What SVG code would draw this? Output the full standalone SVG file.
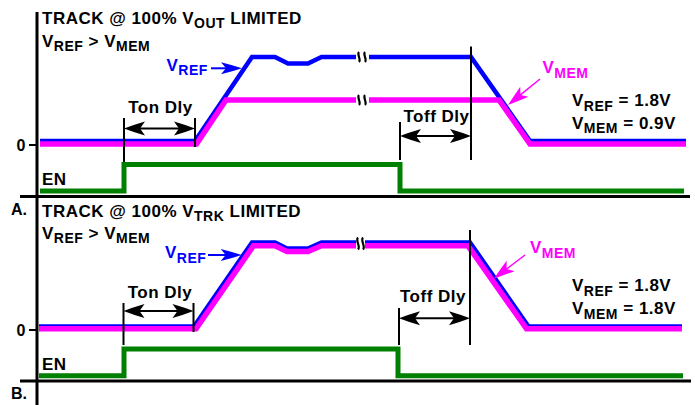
<svg xmlns="http://www.w3.org/2000/svg" width="695" height="405" viewBox="0 0 695 405">
<style>
text{font-family:"Liberation Sans",Arial,Helvetica,sans-serif;font-weight:bold;font-size:17px;letter-spacing:0.5px;fill:#000}
.s{font-size:14px}
.sm{font-size:16px;letter-spacing:0}
.tb{fill:#0000ff}
.tm{fill:#ff00ff}
.axis{stroke:#000;stroke-width:3;fill:none}
.tick{stroke:#000;stroke-width:2;fill:none}
.mk{stroke:#000;stroke-width:2;fill:none}
.dim{stroke:#000;stroke-width:2;fill:none;marker-start:url(#ak);marker-end:url(#ak)}
.vref{stroke:#0000ff;stroke-width:4.5;fill:none;stroke-linejoin:miter}
.vmem{stroke:#ff00ff;stroke-width:5.5;fill:none;stroke-linejoin:miter}
.en{stroke:#008000;stroke-width:5;fill:none;stroke-linejoin:miter}
.brk{stroke:#000;stroke-width:2.2;fill:none}
.ab{stroke:#0000ff;stroke-width:2;fill:none;marker-end:url(#ab)}
.am{stroke:#ff00ff;stroke-width:1.5;fill:none;marker-end:url(#am)}
</style>
<defs>
<marker id="ak" viewBox="-32 -8 34 16" refX="-10" refY="0" markerWidth="34" markerHeight="16" markerUnits="userSpaceOnUse" orient="auto-start-reverse">
<path d="M0,0 Q-9,-3.5 -21,-7 L-16,0 L-21,7 Q-9,3.5 0,0 Z" fill="#000"/>
</marker>
<marker id="ab" viewBox="-32 -8 34 16" refX="-10" refY="0" markerWidth="34" markerHeight="16" markerUnits="userSpaceOnUse" orient="auto">
<path d="M0,0 Q-9,-3 -21,-6 L-16,0 L-21,6 Q-9,3 0,0 Z" fill="#0000ff"/>
</marker>
<marker id="am" viewBox="-32 -8 34 16" refX="-10" refY="0" markerWidth="34" markerHeight="16" markerUnits="userSpaceOnUse" orient="auto">
<path d="M0,0 Q-9,-3 -21,-6.5 L-16,0 L-21,6.5 Q-9,3 0,0 Z" fill="#ff00ff"/>
</marker>
</defs>

<g id="axes">
<path class="axis" d="M37,12 V405"/>
<path class="axis" d="M20,196.5 H690"/>
<path class="axis" d="M20,381 H691"/>
<path class="tick" d="M29,145 H37"/>
<path class="tick" d="M29,330 H37"/>
</g>

<g id="panelA">
<g id="A-traces">
<path class="vref" d="M40,141 L195,141 L252,57 L275,57 L288,63.5 L308,63.5 L321.5,57 L356,57 M369,57 L471,57 L530,141 L686,141"/>
<path class="vmem" d="M40,144 L196.5,144 L226,100 L356,100 M369,100 L499,100 L530,144 L686,144"/>
<path class="en" d="M40,191 L124,191 L124,164.5 L400,164.5 L400,191 L684,191"/>
</g>
<g id="A-breaks">
<path class="brk" d="M359,52 c-2.5,2.5 2.5,7.5 0,10"/>
<path class="brk" d="M365,52 c-2.5,2.5 2.5,7.5 0,10"/>
<path class="brk" d="M359,95 c-2.5,2.5 2.5,7.5 0,10"/>
<path class="brk" d="M365,95 c-2.5,2.5 2.5,7.5 0,10"/>
</g>
<g id="A-dims">
<path class="mk" d="M124,118 V162 M195,118 V147 M400,122 V160 M471,46.5 V160"/>
<path class="dim" d="M134,128.5 H185"/>
<path class="dim" d="M410,136 H461"/>
<path class="ab" d="M211,68.3 H232"/>
<path class="am" d="M540,79 L515.8,98.7"/>
</g>
<g id="A-labels">
<text x="42" y="23.5">TRACK @ 100% V<tspan class="s" dy="4.5">OUT</tspan><tspan dy="-4.5"> LIMITED</tspan></text>
<text x="42" y="46.5">V<tspan class="s" dy="4.5">REF</tspan><tspan dy="-4.5"> &gt; V</tspan><tspan class="s" dy="4.5">MEM</tspan></text>
<text x="25.5" y="150.5" text-anchor="end" class="sm">0</text>
<text x="42" y="185">EN</text>
<text x="160.5" y="113" text-anchor="middle">Ton Dly</text>
<text x="436.5" y="122" text-anchor="middle">Toff Dly</text>
<text x="166.5" y="70.7" class="tb">V<tspan class="s" dy="4.5">REF</tspan></text>
<text x="542.5" y="73" class="tm">V<tspan class="s" dy="4.5">MEM</tspan></text>
<text x="572" y="106">V<tspan class="s" dy="4.5">REF</tspan><tspan dy="-4.5"> = 1.8V</tspan></text>
<text x="572" y="128.5">V<tspan class="s" dy="4.5">MEM</tspan><tspan dy="-4.5"> = 0.9V</tspan></text>
<text x="11" y="214.5" class="sm">A.</text>
</g>
</g>

<g id="panelB">
<g id="B-traces">
<path class="vref" d="M39,326.5 L194,326.5 L252,242.5 L275,242.5 L287,248.5 L308,248.5 L321.5,242.5 L356,242.5 M365,242.5 L470,242.5 L528.5,326.5 L682,326.5"/>
<path class="vmem" d="M39,328.8 L196,328.8 L253.5,245.8 L275,245.8 L287,251.5 L308,251.5 L321.5,245.8 L356,245.8 M365,245.8 L468,245.8 L526.5,328.8 L682,328.8"/>
<path class="en" d="M39,375.8 L124,375.8 L124,349 L398,349 L398,375.8 L683,375.8"/>
</g>
<g id="B-breaks">
<path class="brk" d="M358,237.5 c-3,3 3,9 0,12"/>
<path class="brk" d="M363,237.5 c-3,3 3,9 0,12"/>
</g>
<g id="B-dims">
<path class="mk" d="M123.5,303 V345 M193.5,303 V332 M399,308 V345 M470,230 V345"/>
<path class="dim" d="M133.5,311 H183.5"/>
<path class="dim" d="M409,318.3 H460"/>
<path class="ab" d="M208,255 H231.7"/>
<path class="am" d="M525,255 L501.8,272.6"/>
</g>
<g id="B-labels">
<text x="42" y="216.5">TRACK @ 100% V<tspan class="s" dy="4.5">TRK</tspan><tspan dy="-4.5"> LIMITED</tspan></text>
<text x="42" y="238.7">V<tspan class="s" dy="4.5">REF</tspan><tspan dy="-4.5"> &gt; V</tspan><tspan class="s" dy="4.5">MEM</tspan></text>
<text x="25.5" y="335.5" text-anchor="end" class="sm">0</text>
<text x="42" y="370">EN</text>
<text x="160" y="298.3" text-anchor="middle">Ton Dly</text>
<text x="433" y="302.3" text-anchor="middle">Toff Dly</text>
<text x="165" y="258.3" class="tb">V<tspan class="s" dy="4.5">REF</tspan></text>
<text x="530" y="253.3" class="tm">V<tspan class="s" dy="4.5">MEM</tspan></text>
<text x="572" y="291">V<tspan class="s" dy="4.5">REF</tspan><tspan dy="-4.5"> = 1.8V</tspan></text>
<text x="572" y="314">V<tspan class="s" dy="4.5">MEM</tspan><tspan dy="-4.5"> = 1.8V</tspan></text>
<text x="11" y="399" class="sm">B.</text>
</g>
</g>
</svg>
